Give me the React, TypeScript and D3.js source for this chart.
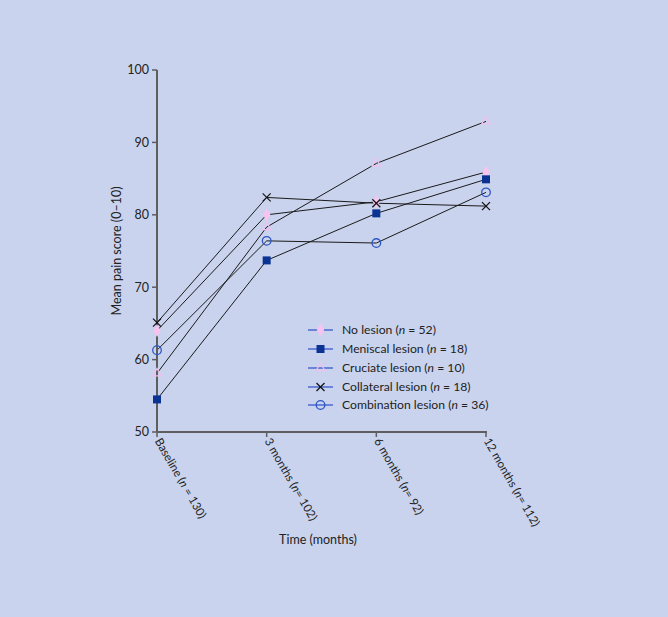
import React from "react";
import * as d3 from "d3";

const timepoints = ["Baseline", "3 months", "6 months", "12 months"];
const timeLabelsN = ["130", "102", "92", "112"];
const seriesNames = ["No lesion", "Meniscal lesion", "Cruciate lesion", "Collateral lesion", "Combination lesion"];
const seriesN = ["52", "18", "10", "18", "36"];
const noLesion = [64.0, 80.0, 81.8, 85.9];
const meniscal = [54.5, 73.7, 80.2, 84.9];
const cruciate = [58.1, 78.3, 87.1, 92.9];
const collateral = [65.1, 82.4, 81.6, 81.2];
const combination = [61.3, 76.4, 76.1, 83.1];
const yTicks = [50, 60, 70, 80, 90, 100];

const allSeries = [noLesion, meniscal, cruciate, collateral, combination];
const markerTypes = ["diamond", "square", "triangle", "x", "circle"];

const W = 668, H = 617;
const FONT = "Lato, 'Noto Sans', sans-serif";

function Marker({ type, x, y }: { type: string; x: number; y: number }) {
  if (type === "diamond") {
    const p = d3.symbol(d3.symbolDiamond, 48)();
    return <path d={p!} transform={`translate(${x},${y})`} fill="#f7c4f0" />;
  }
  if (type === "square") {
    return <rect x={x - 4} y={y - 4} width={8} height={8} fill="#0b3393" />;
  }
  if (type === "triangle") {
    const p = d3.symbol(d3.symbolTriangle, 32)();
    return <path d={p!} transform={`translate(${x},${y})`} fill="none" stroke="#f2c0ee" strokeWidth={1.2} />;
  }
  if (type === "x") {
    return (
      <g stroke="#111" strokeWidth={1.2}>
        <line x1={x - 4} y1={y - 4} x2={x + 4} y2={y + 4} />
        <line x1={x - 4} y1={y + 4} x2={x + 4} y2={y - 4} />
      </g>
    );
  }
  return <circle cx={x} cy={y} r={4.3} fill="none" stroke="#2d56c2" strokeWidth={1.3} />;
}

export default function App() {
  const x = d3.scalePoint<string>().domain(timepoints).range([157, 486]);
  const y = d3.scaleLinear().domain([50, 100]).range([432, 70]);
  const line = d3
    .line<number>()
    .x((_, i) => x(timepoints[i])!)
    .y((d) => y(d));
  const legendY = [330, 349, 368, 387, 405];

  return (
    <svg width={W} height={H} style={{ position: "absolute", left: 0, top: 0 }}>
      <rect width={W} height={H} fill="#c9d3ee" />
      {allSeries.map((s, i) => (
        <path key={i} d={line(s)!} fill="none" stroke="#1a1a1a" strokeWidth={1} />
      ))}
      <line x1={157} y1={70} x2={157} y2={432} stroke="#5e5e5e" strokeWidth={2} />
      <line x1={157} y1={432} x2={487} y2={432} stroke="#5e5e5e" strokeWidth={2} />
      {yTicks.map((t) => (
        <g key={t}>
          <line x1={152} x2={157} y1={y(t)} y2={y(t)} stroke="#5e5e5e" strokeWidth={1.5} />
          <text x={149} y={y(t)} dy="0.35em" textAnchor="end" fontSize={12.5} fontFamily={FONT} fill="#222">
            {t}
          </text>
        </g>
      ))}
      {timepoints.map((t, i) => (
        <g key={t}>
          <line x1={x(t)} x2={x(t)} y1={432} y2={437} stroke="#5e5e5e" strokeWidth={1.5} />
          <text
            transform={`translate(${x(t)! + 1},${439}) rotate(60)`}
            fontSize={11.6}
            fontFamily={FONT}
            fill="#222"
            dy="0.35em"
          >
            {t} (<tspan fontStyle="italic">n</tspan>
            {i === 0 ? " = " : "= "}
            {timeLabelsN[i]})
          </text>
        </g>
      ))}
      {allSeries.map((s, i) =>
        s.map((v, j) => <Marker key={`${i}-${j}`} type={markerTypes[i]} x={x(timepoints[j])!} y={y(v)} />)
      )}
      <text x={318} y={544} textAnchor="middle" fontSize={12.5} fontFamily={FONT} fill="#222">
        Time (months)
      </text>
      <text
        transform={`translate(121,251) rotate(-90)`}
        textAnchor="middle"
        fontSize={12.5}
        fontFamily={FONT}
        fill="#222"
      >
        Mean pain score (0–10)
      </text>
      {seriesNames.map((n, i) => (
        <g key={n}>
          <line x1={308} x2={333} y1={legendY[i]} y2={legendY[i]} stroke="#3050c8" strokeWidth={1.2} />
          <Marker type={markerTypes[i]} x={320.5} y={legendY[i]} />
          <text x={342} y={legendY[i]} dy="0.35em" fontSize={12.2} fontFamily={FONT} fill="#222">
            {n} (<tspan fontStyle="italic">n</tspan> = {seriesN[i]})
          </text>
        </g>
      ))}
    </svg>
  );
}
